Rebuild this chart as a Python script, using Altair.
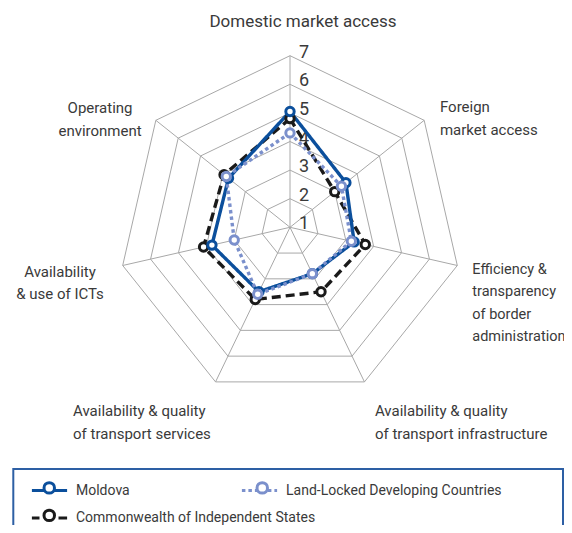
import altair as alt
import pandas as pd

# ---------------- data ----------------
categories = [
    "Domestic market access",
    "Foreign\nmarket access",
    "Efficiency &\ntransparency\nof border\nadministration",
    "Availability & quality\nof transport infrastructure",
    "Availability & quality\nof transport services",
    "Availability\n& use of ICTs",
    "Operating\nenvironment",
]
series_names = ["Moldova", "Land-Locked Developing Countries",
                "Commonwealth of Independent States"]
moldova = [5.05, 3.5, 3.3, 2.8, 3.5, 3.8, 3.75]
lldc = [4.3, 3.3, 3.2, 2.8, 3.6, 3.0, 3.85]
cis = [4.8, 3.0, 3.7, 3.5, 3.8, 4.1, 3.95]
scale_levels = [1, 2, 3, 4, 5, 6, 7]

colors = ["#0b4f9c", "#7b90cc", "#1a1a1a"]
dashes = [[1, 0], [3.5, 3], [9, 5]]
FONT = "Roboto"
TXT = "#3a3a3a"
GRID = "#a8a8a8"

n = len(categories)
vmin, vmax = scale_levels[0], scale_levels[-1]


def long_df(pairs):
    rows = []
    for name, vals in pairs:
        for i, v in enumerate(vals):
            rows.append({"series": name, "series_pt": name + "\u200b", "idx": i, "value": v})
    return pd.DataFrame(rows)


df_a = long_df([(series_names[0], moldova), (series_names[1], lldc)])
df_b = long_df([(series_names[2], cis)])

grid_df = pd.DataFrame([{"level": l, "idx": i} for l in scale_levels[1:] for i in range(n)])
spoke_df = pd.DataFrame([{"idx": i, "level": vmax} for i in range(n)])
num_df = pd.DataFrame({"level": scale_levels})
cat_df = pd.DataFrame({"idx": list(range(n)), "label": categories, "level": [vmax] * n})

# ---------------- geometry ----------------
W, H = 556, 517
unit = 28.6
cx, cy = 282.0, 219.3
xdom = [-cx / unit, (W - cx) / unit]
ydom = [-(H - cy) / unit, cy / unit]

xs = alt.Scale(domain=xdom, nice=False, zero=False)
ys = alt.Scale(domain=ydom, nice=False, zero=False)


def polar(ch, vfield="level"):
    return ch.transform_calculate(
        theta=f"datum.idx * 2 * PI / {n}",
        r=f"datum.{vfield} - {vmin}",
    ).transform_calculate(
        px="datum.r * sin(datum.theta)",
        py="datum.r * cos(datum.theta)",
    )


X = alt.X("px:Q", scale=xs, axis=None)
Y = alt.Y("py:Q", scale=ys, axis=None)

rings = polar(alt.Chart(grid_df).mark_line(
    interpolate="linear-closed", stroke=GRID, strokeWidth=1
)).encode(x=X, y=Y, detail="level:N", order="idx:Q")

spokes = polar(alt.Chart(spoke_df).mark_rule(stroke=GRID, strokeWidth=1)).transform_calculate(
    zx="0", zy="0"
).encode(x=alt.X("zx:Q", scale=xs, axis=None), y=alt.Y("zy:Q", scale=ys, axis=None),
         x2="px:Q", y2="py:Q")

numbers = alt.Chart(num_df).transform_calculate(
    px="0", py=f"datum.level - {vmin}"
).mark_text(align="left", baseline="middle", dx=9, dy=-3, fontSize=18, font=FONT,
            color=TXT).encode(x=X, y=Y, text="level:Q")

label_styles = [
    dict(align="center", dx=13, dy=-33.7, fontSize=17),
    dict(align="left", dx=15.8, dy=-13.3, fontSize=15),
    dict(align="left", dx=15, dy=4.5, fontSize=14.5),
    dict(align="left", dx=10.5, dy=29.1, fontSize=15),
    dict(align="left", dx=-142.5, dy=29.1, fontSize=15),
    dict(align="center", dx=-62.7, dy=6.5, fontSize=15),
    dict(align="center", dx=-55.8, dy=-12.3, fontSize=15),
]
label_layers = []
for i, st in enumerate(label_styles):
    label_layers.append(
        polar(alt.Chart(cat_df).transform_filter(f"datum.idx == {i}").mark_text(
            baseline="middle", font=FONT, color=TXT, lineBreak="\n",
            lineHeight=22.5, **st
        )).encode(x=X, y=Y, text="label:N")
    )

# ---------------- legends ----------------
LX, ROW1, ROW2 = 31.5, 472.5, 500
COLPAD_L = 105
SLOT_L, SLOT_P = 16.0, 110 ** 0.5
LOFF = 16.5
shift = (SLOT_L - SLOT_P) / 2
COLPAD_P = 189


def leg_line(y, dash_offset=0):
    return alt.Legend(orient="none", title=None, direction="horizontal", columns=2,
                      gridAlign="each", labelFont=FONT, labelFontSize=14, padding=0,
                      labelLimit=0, columnPadding=COLPAD_L, legendX=LX, legendY=y,
                      symbolType="M-2.2,0H2.2", symbolSize=SLOT_L ** 2,
                      symbolDashOffset=dash_offset,
                      symbolStrokeWidth=3.2, labelOffset=LOFF, labelColor=TXT)


def leg_pt(y):
    # circle markers only: they sit on top of the line symbols of leg_line
    return alt.Legend(orient="none", title=None, direction="horizontal", columns=2,
                      gridAlign="each", labelFont=FONT, labelFontSize=14, padding=0,
                      labelLimit=0, columnPadding=COLPAD_P, legendX=LX + shift,
                      legendY=y, symbolType="circle", symbolSize=110,
                      symbolStrokeWidth=3, symbolFillColor="white",
                      labelOffset=0, labelExpr="''")


def line_layer(df, names, cols, dsh, y, dash_offset=0):
    lg = leg_line(y, dash_offset)
    return polar(alt.Chart(df).mark_line(interpolate="linear-closed", strokeWidth=3.4),
                 "value").encode(
        x=X, y=Y, order="idx:Q",
        color=alt.Color("series:N", scale=alt.Scale(domain=names, range=cols), legend=lg),
        strokeDash=alt.StrokeDash("series:N", scale=alt.Scale(domain=names, range=dsh), legend=lg),
    )


def point_layer(df, names, cols, y):
    pn = [s + "\u200b" for s in names]
    return polar(alt.Chart(df).mark_point(
        shape="circle", size=70, strokeWidth=3, fill="white", fillOpacity=1, opacity=1
    ), "value").encode(
        x=X, y=Y,
        stroke=alt.Stroke("series_pt:N", scale=alt.Scale(domain=pn, range=cols), legend=leg_pt(y)),
    )


lines_b = line_layer(df_b, series_names[2:], colors[2:], dashes[2:], ROW2, dash_offset=1.4)
lines_a = line_layer(df_a, series_names[:2], colors[:2], dashes[:2], ROW1)
pts_b = point_layer(df_b, series_names[2:], colors[2:], ROW2)
pts_a = point_layer(df_a, series_names[:2], colors[:2], ROW1)

frame = alt.Chart(pd.DataFrame({"k": [0]})).mark_rect(
    fillOpacity=0, stroke="#2d5fa4", strokeWidth=2
).encode(x=alt.value(5.3), x2=alt.value(555), y=alt.value(461), y2=alt.value(540))

chart = alt.layer(rings, spokes, numbers, *label_layers, lines_b, lines_a, pts_b, pts_a,
                  frame).resolve_scale(
    color="independent", stroke="independent", strokeDash="independent"
).properties(width=W, height=H, padding=0,
             autosize=alt.AutoSizeParams(type="none")).configure_view(strokeWidth=0)

chart.save("out.html", embed_options={"renderer": "svg", "actions": False})
